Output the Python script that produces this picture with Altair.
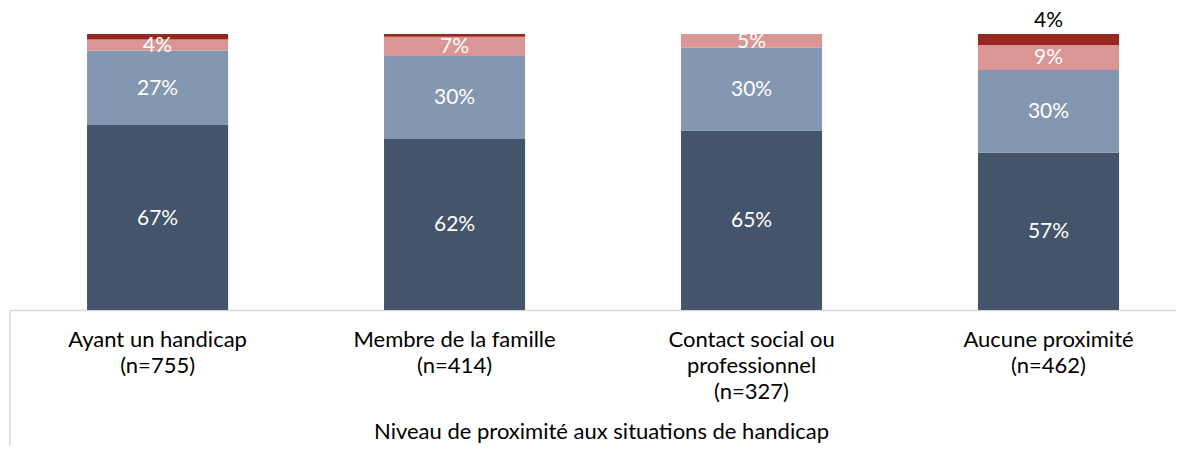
import altair as alt
import pandas as pd

categories = [
    "Ayant un handicap|(n=755)",
    "Membre de la famille|(n=414)",
    "Contact social ou|professionnel|(n=327)",
    "Aucune proximité|(n=462)",
]
series = ["Niveau 1", "Niveau 2", "Niveau 3", "Niveau 4"]
s1 = [67, 62, 65, 57]
s2 = [27, 30, 30, 30]
s3 = [4, 7, 5, 9]
s4 = [2, 1, 0, 4]
colors = ["#44546A", "#8497B0", "#DA9694", "#96281F"]
x_title = "Niveau de proximité aux situations de handicap"

rows = []
for i, c in enumerate(categories):
    for k, (name, vals) in enumerate(zip(series, [s1, s2, s3, s4])):
        rows.append({"cat": c, "serie": name, "k": k, "value": vals[i]})
df = pd.DataFrame(rows)

FONT = "Lato"
W, H = 1166, 276

base = (
    alt.Chart(df)
    .transform_stack(stack="value", groupby=["cat"], as_=["y0", "y1"],
                     sort=[alt.SortField("k", order="ascending")])
    .transform_calculate(mid="(datum.y0 + datum.y1) / 2", lab="datum.value + '%'")
)

xenc = alt.X(
    "cat:N", sort=categories, title=x_title,
    scale=alt.Scale(paddingInner=0.525, paddingOuter=0.2256, align=0.575),
    axis=alt.Axis(
        labelExpr="split(datum.value, '|')", labelAngle=0, ticks=False,
        labelLimit=0,
        domainColor="#D9D9D9", domainWidth=1.5,
        labelFont=FONT, labelFontSize=22, labelColor="black",
        labelPadding=19, labelLineHeight=26,
        titleFont=FONT, titleFontSize=22, titleFontWeight="normal",
        titleColor="black", titleX=591, titleY=128,
        titleBaseline="alphabetic", titleAlign="center",
    ),
)
yscale = alt.Scale(domain=[0, 100], nice=False, zero=True)

bars = base.mark_bar().encode(
    x=xenc,
    y=alt.Y("y0:Q", scale=yscale, axis=None),
    y2="y1:Q",
    color=alt.Color("serie:N", scale=alt.Scale(domain=series, range=colors), legend=None),
)

inner = base.transform_filter("datum.k < 3").mark_text(
    font=FONT, fontSize=21, color="white", baseline="middle", dy=1
).encode(
    x=alt.X("cat:N", sort=categories),
    y=alt.Y("mid:Q", scale=yscale),
    text="lab:N",
)

top = base.transform_filter("datum.k == 3 && datum.value >= 3").mark_text(
    font=FONT, fontSize=21, color="black", baseline="middle", dy=-13
).encode(
    x=alt.X("cat:N", sort=categories),
    y=alt.Y("y1:Q", scale=yscale),
    text="lab:N",
)

border = alt.Chart(pd.DataFrame({"a": [0]})).mark_rule(
    color="#D9D9D9", strokeWidth=1.5, clip=False
).encode(x=alt.value(0), y=alt.value(H), y2=alt.value(H + 160))

chart = (
    alt.layer(bars, inner, top, border)
    .properties(
        width=W, height=H, autosize="none",
        padding={"left": 2, "top": 26, "right": 0, "bottom": 136},
    )
    .configure_view(stroke=None)
)

chart.save("out.html", embed_options={"renderer": "svg", "actions": False})
